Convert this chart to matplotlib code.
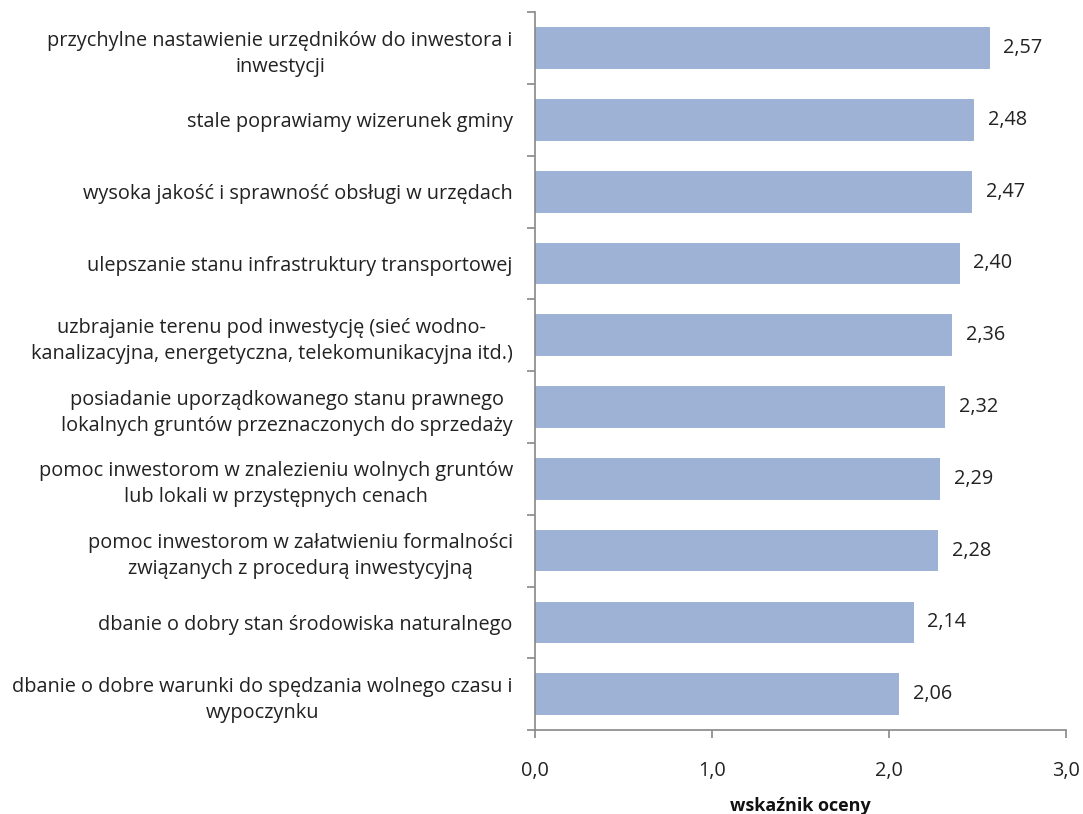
import matplotlib
matplotlib.use("Agg")
import matplotlib.pyplot as plt
import numpy as np

categories = [
    "przychylne nastawienie urzędników do inwestora i\ninwestycji",
    "stale poprawiamy wizerunek gminy",
    "wysoka jakość i sprawność obsługi w urzędach",
    "ulepszanie stanu infrastruktury transportowej",
    "uzbrajanie terenu pod inwestycję (sieć wodno-\nkanalizacyjna, energetyczna, telekomunikacyjna itd.)",
    "posiadanie uporządkowanego stanu prawnego\nlokalnych gruntów przeznaczonych do sprzedaży",
    "pomoc inwestorom w znalezieniu wolnych gruntów\nlub lokali w przystępnych cenach",
    "pomoc inwestorom w załatwieniu formalności\nzwiązanych z procedurą inwestycyjną",
    "dbanie o dobry stan środowiska naturalnego",
    "dbanie o dobre warunki do spędzania wolnego czasu i\nwypoczynku",
]
values = [2.57, 2.48, 2.47, 2.40, 2.36, 2.32, 2.29, 2.28, 2.14, 2.06]
xticks = [0.0, 1.0, 2.0, 3.0]
xlabel = "wskaźnik oceny"

plt.rcParams['font.family'] = ['Open Sans', 'DejaVu Sans']
FS = 14.3

fig = plt.figure(figsize=(10.83, 8.14), dpi=100)
ax = fig.add_axes([0.494, 0.103, 0.490, 0.882])

n = len(categories)
y = np.arange(n)
bar_color = "#9EB2D6"
ax.barh(y, values, height=0.58, color=bar_color)
ax.set_ylim(n - 0.5, -0.5)
ax.set_xlim(0, 3)

for yi, v in zip(y, values):
    ax.annotate(f"{v:.2f}".replace(".", ","), (v, yi), xytext=(10, 0),
                textcoords="offset points", ha="left", va="center",
                fontsize=FS, color="#222222")

ax.set_yticks(y)
ax.set_yticklabels(categories, fontsize=FS, color="#222222")
for lbl in ax.get_yticklabels():
    lbl.set_multialignment("center")
    lbl.set_linespacing(1.4)
ax.tick_params(axis="y", which="major", length=0, pad=16)
ax.set_yticks(np.arange(-0.5, n, 1.0), minor=True)
ax.tick_params(axis="y", which="minor", length=6, color="#888888", width=1.2)

ax.set_xticks(xticks)
ax.set_xticklabels([f"{t:.1f}".replace(".", ",") for t in xticks], fontsize=FS, color="#222222")
ax.tick_params(axis="x", length=6, color="#888888", width=1.2, pad=16)
ax.set_xlabel(xlabel, fontsize=13, fontweight="bold", labelpad=12, color="#111111")

for s in ["top", "right"]:
    ax.spines[s].set_visible(False)
for s in ["left", "bottom"]:
    ax.spines[s].set_color("#888888")
    ax.spines[s].set_linewidth(1.2)

fig.savefig("out.png", dpi=100)
